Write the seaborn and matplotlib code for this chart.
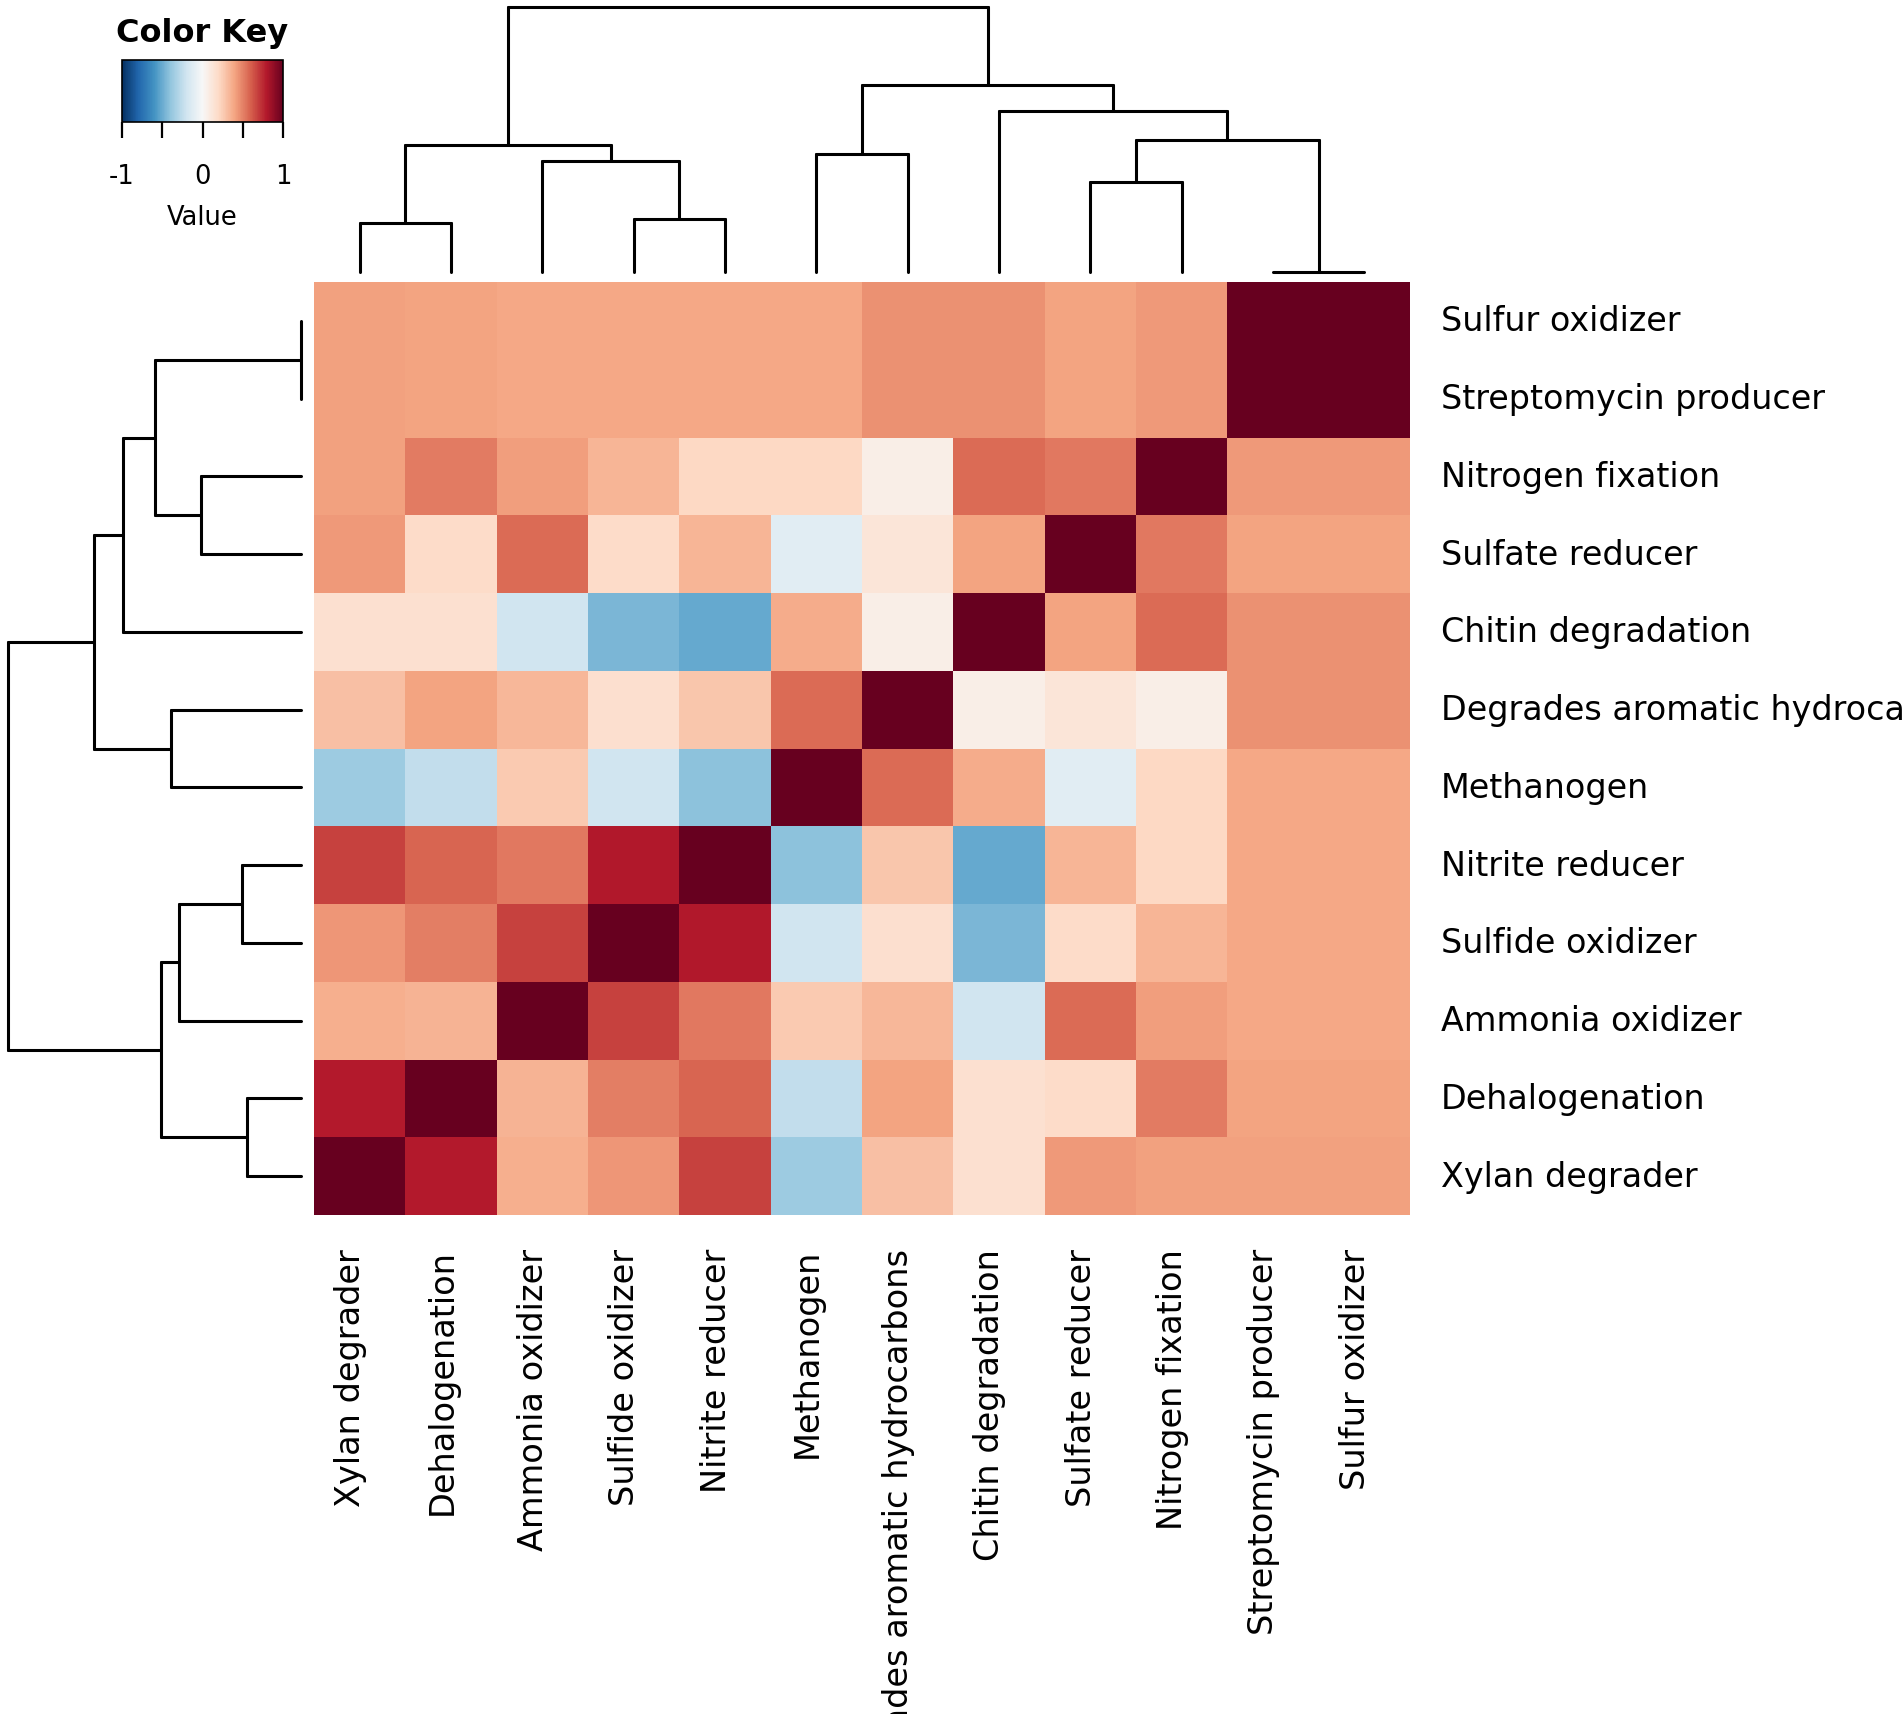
import numpy as np
import pandas as pd
import seaborn as sns
import matplotlib.pyplot as plt
import matplotlib.transforms as mtransforms

# leaf order (column order, left to right); rows are drawn in reverse
labels = ["Xylan degrader", "Dehalogenation", "Ammonia oxidizer", "Sulfide oxidizer",
          "Nitrite reducer", "Methanogen", "Degrades aromatic hydrocarbons",
          "Chitin degradation", "Sulfate reducer", "Nitrogen fixation",
          "Streptomycin producer", "Sulfur oxidizer"]

# correlation values, same order as labels
corr_values = [
    [1.00, 0.79, 0.36, 0.44, 0.68, -0.36, 0.30, 0.16, 0.43, 0.41, 0.41, 0.41],
    [0.79, 1.00, 0.35, 0.51, 0.58, -0.25, 0.40, 0.16, 0.19, 0.52, 0.40, 0.40],
    [0.36, 0.35, 1.00, 0.68, 0.53, 0.26, 0.33, -0.20, 0.57, 0.42, 0.39, 0.39],
    [0.44, 0.51, 0.68, 1.00, 0.80, -0.20, 0.17, -0.46, 0.19, 0.34, 0.39, 0.39],
    [0.68, 0.58, 0.53, 0.80, 1.00, -0.41, 0.28, -0.51, 0.34, 0.21, 0.39, 0.39],
    [-0.36, -0.25, 0.26, -0.20, -0.41, 1.00, 0.57, 0.37, -0.11, 0.21, 0.39, 0.39],
    [0.30, 0.40, 0.33, 0.17, 0.28, 0.57, 1.00, 0.07, 0.13, 0.07, 0.46, 0.46],
    [0.16, 0.16, -0.20, -0.46, -0.51, 0.37, 0.07, 1.00, 0.40, 0.57, 0.46, 0.46],
    [0.43, 0.19, 0.57, 0.19, 0.34, -0.11, 0.13, 0.40, 1.00, 0.53, 0.40, 0.40],
    [0.41, 0.52, 0.42, 0.34, 0.21, 0.21, 0.07, 0.57, 0.53, 1.00, 0.43, 0.43],
    [0.41, 0.40, 0.39, 0.39, 0.39, 0.39, 0.46, 0.46, 0.40, 0.43, 1.00, 1.00],
    [0.41, 0.40, 0.39, 0.39, 0.39, 0.39, 0.46, 0.46, 0.40, 0.43, 1.00, 1.00],
]

# hierarchical merges (child_a, child_b, height); new node ids start at 12
merges = [
    (10, 11, 0.000),
    (0, 1, 0.184),
    (3, 4, 0.200),
    (8, 9, 0.341),
    (2, 14, 0.417),
    (5, 6, 0.445),
    (13, 16, 0.478),
    (15, 12, 0.499),
    (7, 19, 0.608),
    (17, 20, 0.705),
    (18, 21, 1.000),
]

key_ticks = [-1, -0.5, 0, 0.5, 1]
key_ticklabels = ["-1", "", "0", "", "1"]

W, H = 1902, 1715
sns.set_style("white")
plt.rcParams['font.family'] = ['DejaVu Sans']
plt.rcParams['text.color'] = 'black'
plt.rcParams['axes.labelcolor'] = 'black'
plt.rcParams['xtick.color'] = 'black'
plt.rcParams['ytick.color'] = 'black'
fig = plt.figure(figsize=(W / 100, H / 100), dpi=100)


def px_axes(x0, y0, x1, y1):
    # axes from pixel box (top-left origin)
    return fig.add_axes([x0 / W, 1 - y1 / H, (x1 - x0) / W, (y1 - y0) / H])


ax_heat = px_axes(314, 283, 1410, 1216)
ax_top = px_axes(314, 8, 1410, 273)
ax_left = px_axes(8, 283, 301, 1216)
ax_key = px_axes(122, 61, 283, 123)

n = len(labels)
M = np.array(corr_values)
df = pd.DataFrame(M[::-1, :], index=labels[::-1], columns=labels)

sns.heatmap(df, ax=ax_heat, cmap="RdBu_r", vmin=-1, vmax=1, linewidths=0,
            cbar_ax=ax_key, cbar_kws={"orientation": "horizontal"},
            xticklabels=True, yticklabels=True)
ax_heat.yaxis.tick_right()
ax_heat.set_xlabel("")
ax_heat.set_ylabel("")
ax_heat.set_xticklabels(labels, rotation=90, fontsize=24.2, va="top")
ax_heat.set_yticklabels(labels[::-1], rotation=0, fontsize=24.0, va="center")
ax_heat.tick_params(axis="x", length=0, pad=23.5)
ax_heat.tick_params(axis="y", length=0, pad=22.5)

# column labels sit a little left of the cell centres in the original
shift = mtransforms.ScaledTranslation(-0.09, 0, fig.dpi_scale_trans)
for t in ax_heat.get_xticklabels():
    t.set_transform(t.get_transform() + shift)

# color key
cbar = ax_heat.collections[0].colorbar
cbar.set_ticks(key_ticks)
cbar.set_ticklabels(key_ticklabels)
cbar.ax.tick_params(length=11.5, width=1.6, labelsize=18.5, pad=18, direction="out")
cbar.outline.set_linewidth(1.2)
cbar.outline.set_edgecolor("black")
cbar.set_label("Value", fontsize=18.5, labelpad=11)
ax_key.set_title("Color Key", fontsize=23, fontweight="bold", pad=14)


def draw_dendro(ax, vertical):
    pos = {i: i + 0.5 for i in range(n)}
    hts = {i: 0.0 for i in range(n)}
    for k, (a, b, h) in enumerate(merges):
        for c in (a, b):
            p = pos[c] if vertical else n - pos[c]
            if vertical:
                ax.plot([p, p], [hts[c], h], color="black", lw=2.2, clip_on=False)
            else:
                ax.plot([hts[c], h], [p, p], color="black", lw=2.2, clip_on=False)
        pa = pos[a] if vertical else n - pos[a]
        pb = pos[b] if vertical else n - pos[b]
        if vertical:
            ax.plot([pa, pb], [h, h], color="black", lw=2.2, clip_on=False)
        else:
            ax.plot([h, h], [pa, pb], color="black", lw=2.2, clip_on=False)
        pos[n + k] = (pos[a] + pos[b]) / 2
        hts[n + k] = h
    ax.axis("off")


draw_dendro(ax_top, True)
ax_top.set_xlim(0, n)
ax_top.set_ylim(0, 1)
draw_dendro(ax_left, False)
ax_left.set_xlim(1, 0)
ax_left.set_ylim(n, 0)

fig.savefig("out.png", dpi=100)
